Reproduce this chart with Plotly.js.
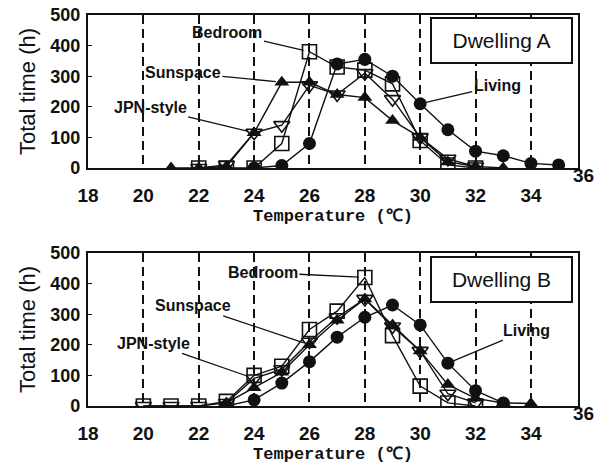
<!DOCTYPE html>
<html>
<head>
<meta charset="utf-8">
<script src="https://cdn.plot.ly/plotly-3.0.1.min.js"></script>
<style>
html,body{margin:0;padding:0;background:#fff;}
#chart{width:596px;height:470px;}
</style>
</head>
<body>
<div id="chart"></div>
<script>
// Temperature categories (°C)
var temps = [20, 21, 22, 23, 24, 25, 26, 27, 28, 29, 30, 31, 32, 33, 34, 35];

// Dwelling A — total time (h)
var livingA   = [null, null, null, null, 0, 8, 80, 340, 355, 300, 210, 125, 55, 40, 15, 10];
var sunspaceA = [null, 0, 0, 5, 115, 280, 280, 240, 230, 155, 100, 20, 5, 0, null, null];
var jpnA      = [null, null, 0, 10, 115, 140, 270, 240, 310, 225, 100, 30, 5, null, null, null];
var bedroomA  = [null, null, 0, 0, 0, 80, 380, 330, 320, 275, 90, 10, 0, null, null, null];

// Dwelling B — total time (h)
var livingB   = [null, null, null, 0, 20, 75, 145, 225, 290, 330, 265, 140, 50, 10, null, null];
var sunspaceB = [null, null, null, 10, 60, 110, 200, 280, 350, 265, 180, 70, 25, 10, 8, null];
var jpnB      = [0, 0, 0, 10, 90, 120, 210, 290, 350, 260, 180, 40, 10, null, null, null];
var bedroomB  = [0, 0, 0, 15, 100, 130, 250, 310, 420, 230, 65, 10, 0, null, null, null];

var xTicks = [18, 20, 22, 24, 26, 28, 30, 32, 34];
var yTicks = [0, 100, 200, 300, 400, 500];

var seriesNames = ['Living', 'Sunspace', 'JPN-style', 'Bedroom'];
var symbols = ['circle', 'triangle-up', 'triangle-down-open', 'square-open'];

function mk(y, i, xa, ya) {
  var open = symbols[i].indexOf('open') >= 0;
  return {
    x: temps, y: y, xaxis: xa, yaxis: ya, type: 'scatter', mode: 'lines+markers',
    name: seriesNames[i], showlegend: false, connectgaps: false,
    line: {color: '#111', width: 1.4},
    marker: {symbol: symbols[i], size: open ? 14 : 13, color: '#111',
             line: {color: '#111', width: open ? 1.6 : 0}}
  };
}

var data = [
  mk(livingA, 0, 'x', 'y'), mk(sunspaceA, 1, 'x', 'y'), mk(jpnA, 2, 'x', 'y'), mk(bedroomA, 3, 'x', 'y'),
  mk(livingB, 0, 'x2', 'y2'), mk(sunspaceB, 1, 'x2', 'y2'), mk(jpnB, 2, 'x2', 'y2'), mk(bedroomB, 3, 'x2', 'y2')
];

var W = 596, H = 470;
var xDom = [88 / W, 578 / W];
var yDomTop = [1 - 168 / H, 1 - 15 / H];
var yDomBot = [1 - 406 / H, 1 - 253 / H];

function xaxis(anchor) {
  return {
    domain: xDom, anchor: anchor, range: [18, 35.7],
    tickvals: xTicks, ticktext: xTicks.map(String),
    showgrid: true, gridcolor: '#111', gridwidth: 2, griddash: '9px,5px',
    showline: true, mirror: true, linecolor: '#111', linewidth: 2.2,
    zeroline: false, ticks: '', ticklabelstandoff: 9,
    tickfont: {family: 'Liberation Sans, Arial, sans-serif', size: 19, color: '#111', weight: 'bold'},
    title: {text: 'Temperature (℃)', standoff: 4,
            font: {family: 'Liberation Mono, DejaVu Sans Mono, monospace', size: 17, color: '#111', weight: 'bold'}}
  };
}
function yaxis(anchor, dom) {
  return {
    domain: dom, anchor: anchor, range: [0, 500],
    tickvals: yTicks, ticktext: yTicks.map(String),
    showgrid: false, zeroline: false,
    showline: true, mirror: true, linecolor: '#111', linewidth: 2.2,
    ticks: 'inside', ticklen: 4, tickcolor: '#111', ticklabelstandoff: 2,
    tickfont: {family: 'Liberation Sans, Arial, sans-serif', size: 18, color: '#111', weight: 'bold'},
    title: {text: 'Total time (h)', standoff: 9,
            font: {family: 'Liberation Sans, Arial, sans-serif', size: 22, color: '#111'}}
  };
}

var lblFont = {family: 'Liberation Sans, Arial, sans-serif', size: 16, color: '#111', weight: 'bold'};
function lbl(text, xr, yr, x, y, ax, ay) {
  return {text: text, xref: xr, yref: yr, x: x, y: y, ax: ax, ay: ay,
          showarrow: true, arrowhead: 0, arrowwidth: 1.3, arrowcolor: '#111',
          standoff: 6, font: lblFont};
}
function box(text, yc) {
  return {text: text, xref: 'paper', yref: 'paper', x: 501.5 / W, y: 1 - yc / H,
          xanchor: 'center', yanchor: 'middle', showarrow: false,
          width: 137, height: 41, borderpad: 1, bordercolor: '#111', borderwidth: 2, bgcolor: '#fff',
          font: {family: 'Liberation Sans, Arial, sans-serif', size: 21, color: '#111'}};
}
function t36(yc) {
  return {text: '36', xref: 'paper', yref: 'paper', x: 583 / W, y: 1 - yc / H,
          xanchor: 'center', yanchor: 'middle', showarrow: false,
          font: {family: 'Liberation Sans, Arial, sans-serif', size: 19, color: '#111', weight: 'bold'}};
}

var layout = {
  width: W, height: H, margin: {l: 0, r: 0, t: 0, b: 0},
  paper_bgcolor: '#fff', plot_bgcolor: '#fff', showlegend: false,
  xaxis: xaxis('y'), yaxis: yaxis('x', yDomTop),
  xaxis2: xaxis('y2'), yaxis2: yaxis('x2', yDomBot),
  annotations: [
    lbl('Bedroom', 'x', 'y', 26, 380, -82, -19),
    lbl('Sunspace', 'x', 'y', 25, 280, -99, -10),
    lbl('JPN-style', 'x', 'y', 24, 115, -104, -25),
    lbl('Living', 'x', 'y', 30, 210, 77, -18),
    lbl('Bedroom', 'x2', 'y2', 28, 420, -102, -5),
    lbl('Sunspace', 'x2', 'y2', 26, 200, -116, -39),
    lbl('JPN-style', 'x2', 'y2', 24, 90, -101, -35),
    lbl('Living', 'x2', 'y2', 31, 140, 79, -33),
    box('Dwelling A', 41), box('Dwelling B', 279),
    t36(175), t36(413)
  ]
};

Plotly.newPlot('chart', data, layout, {displayModeBar: false, staticPlot: true});
</script>
</body>
</html>
